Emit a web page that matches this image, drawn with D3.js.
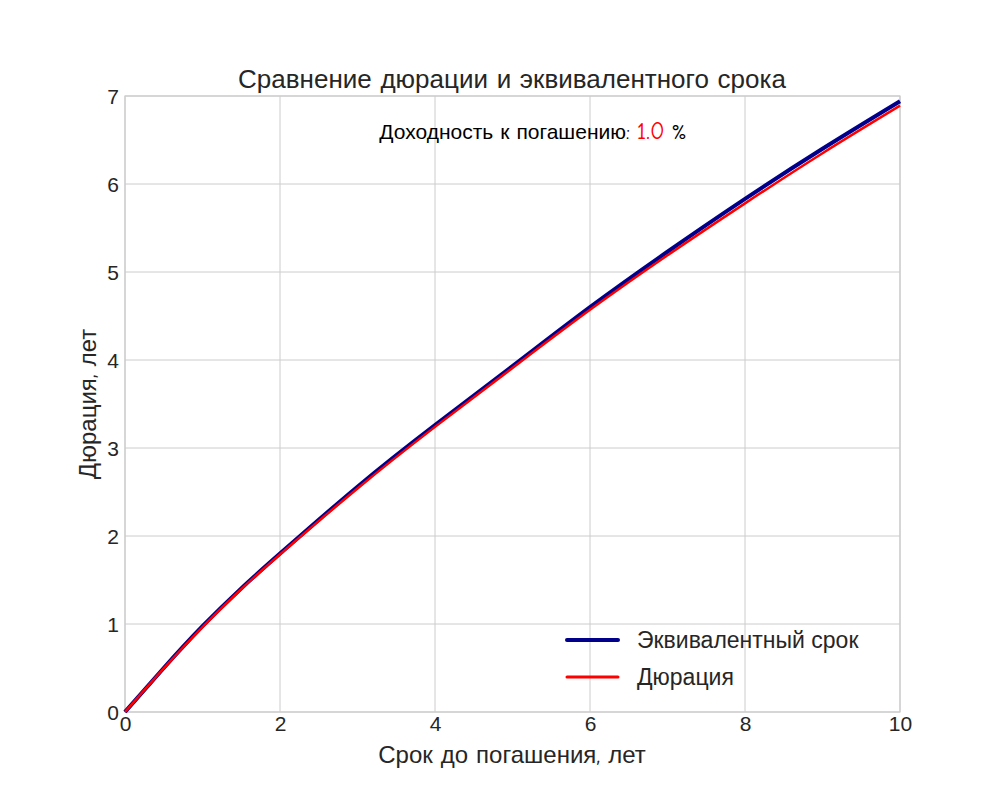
<!DOCTYPE html>
<html>
<head>
<meta charset="utf-8">
<script src="https://cdn.jsdelivr.net/npm/d3@7"></script>
<style>
  body { margin: 0; background: #fff; }
  .comic { font-family: "Comic Sans MS", "Comic Neue", cursive, sans-serif; }
</style>
</head>
<body>
<svg id="chart" width="1000" height="800"></svg>
<script>
// Data
var maturity = [0, 0.5, 1, 1.5, 2, 3, 4, 5, 6, 7, 8, 9, 10]
var equivTerm = [0, 0.5, 0.975, 1.405, 1.80, 2.56, 3.26, 3.93, 4.60, 5.23, 5.83, 6.40, 6.94]
var duration = [0, 0.495, 0.965, 1.395, 1.79, 2.54, 3.24, 3.91, 4.57, 5.19, 5.78, 6.35, 6.89]
var xTicks = [0, 2, 4, 6, 8, 10]
var yTicks = [0, 1, 2, 3, 4, 5, 6, 7]
var title = 'Сравнение дюрации и эквивалентного срока'
var yieldValue = '1.0'

var svg = d3.select('#chart')
var plotLeft = 125, plotRight = 900, plotTop = 96, plotBottom = 712
var tickFont = '"Liberation Sans", Arial, sans-serif'

var x = d3.scaleLinear().domain([0, 10]).range([plotLeft, plotRight])
var y = d3.scaleLinear().domain([0, 7]).range([plotBottom, plotTop])

// grid
svg.append('g')
  .selectAll('line')
  .data(xTicks)
  .enter()
  .append('line')
  .attr('x1', d => x(d)).attr('x2', d => x(d))
  .attr('y1', plotTop).attr('y2', plotBottom)
  .attr('stroke', '#cccccc').attr('stroke-width', 1)
svg.append('g')
  .selectAll('line')
  .data(yTicks)
  .enter()
  .append('line')
  .attr('x1', plotLeft).attr('x2', plotRight)
  .attr('y1', d => y(d)).attr('y2', d => y(d))
  .attr('stroke', '#cccccc').attr('stroke-width', 1)

// frame
svg.append('rect')
  .attr('x', plotLeft).attr('y', plotTop)
  .attr('width', plotRight - plotLeft).attr('height', plotBottom - plotTop)
  .attr('fill', 'none').attr('stroke', '#cccccc').attr('stroke-width', 1.2)

// axes (labels only)
var xAxis = svg.append('g')
  .attr('transform', 'translate(0,' + plotBottom + ')')
  .call(d3.axisBottom(x).tickValues(xTicks).tickSize(0).tickPadding(4).tickFormat(d3.format('d')))
var yAxis = svg.append('g')
  .attr('transform', 'translate(' + plotLeft + ',0)')
  .call(d3.axisLeft(y).tickValues(yTicks).tickSize(0).tickPadding(6).tickFormat(d3.format('d')))
xAxis.select('.domain').remove()
yAxis.select('.domain').remove()
xAxis.attr('font-size', 21).attr('font-family', tickFont)
yAxis.attr('font-size', 21).attr('font-family', tickFont)
svg.selectAll('.tick text').attr('fill', '#262626')
yAxis.selectAll('.tick text').attr('dy', '0.36em')

// lines
var line = function(vals) {
  return d3.line()
    .x((d, i) => x(maturity[i]))
    .y(d => y(d))
    .curve(d3.curveNatural)(vals)
}
svg.append('path')
  .attr('d', line(equivTerm))
  .attr('fill', 'none').attr('stroke', '#00008b').attr('stroke-width', 4)
svg.append('path')
  .attr('d', line(duration))
  .attr('fill', 'none').attr('stroke', '#ff0000').attr('stroke-width', 2.5)

// title and labels
svg.append('text')
  .attr('class', 'comic')
  .attr('x', 512).attr('y', 88)
  .attr('text-anchor', 'middle')
  .attr('font-size', 26).attr('fill', '#262626')
  .text(title)
svg.append('text')
  .attr('class', 'comic')
  .attr('x', 512).attr('y', 763)
  .attr('text-anchor', 'middle')
  .attr('font-size', 24).attr('fill', '#262626')
  .text('Срок до погашения, лет')
svg.append('text')
  .attr('class', 'comic')
  .attr('transform', 'translate(96,404) rotate(-90)')
  .attr('text-anchor', 'middle')
  .attr('font-size', 24).attr('fill', '#262626')
  .text('Дюрация, лет')

// yield annotation
var note = svg.append('text')
  .attr('class', 'comic')
  .attr('x', 533).attr('y', 139)
  .attr('text-anchor', 'middle')
  .attr('font-size', 21).attr('fill', '#000')
note.append('tspan').text('Доходность к погашению:  ')
note.append('tspan').attr('fill', '#ff0000').attr('font-size', 24).text(yieldValue)
note.append('tspan').text(' %')

// legend
var legendItems = [
  { name: 'Эквивалентный срок', color: '#00008b', width: 4 },
  { name: 'Дюрация', color: '#ff0000', width: 3 }
]
var legend = svg.append('g')
legendItems.forEach(function(item, i) {
  var ly = 640 + i * 37
  legend.append('line')
    .attr('x1', 567).attr('x2', 618)
    .attr('y1', ly).attr('y2', ly)
    .attr('stroke', item.color).attr('stroke-width', item.width)
    .attr('stroke-linecap', 'round')
  legend.append('text')
    .attr('x', 637).attr('y', ly + 8)
    .attr('font-family', tickFont)
    .attr('font-size', 23).attr('fill', '#262626')
    .text(item.name)
})
</script>
</body>
</html>
